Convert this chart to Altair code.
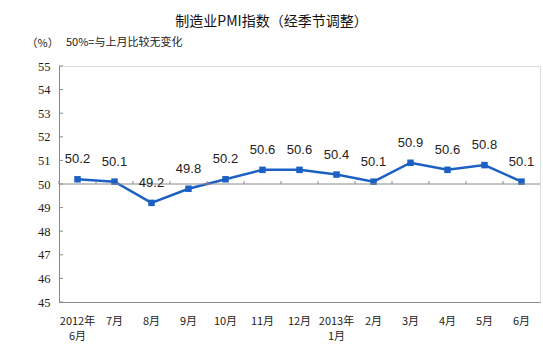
import altair as alt
import pandas as pd

# ---- data ----
months = ["2012年 6月", "7月", "8月", "9月", "10月", "11月", "12月",
          "2013年 1月", "2月", "3月", "4月", "5月", "6月"]
pmi = [50.2, 50.1, 49.2, 49.8, 50.2, 50.6, 50.6, 50.4, 50.1, 50.9, 50.6, 50.8, 50.1]
y_ticks = [45, 46, 47, 48, 49, 50, 51, 52, 53, 54, 55]
reference_level = 50
title_text = "制造业PMI指数（经季节调整）"
unit_text = "（%）"
note_text = "50%=与上月比较无变化"

df = pd.DataFrame({"month": months, "pmi": pmi})
df["ref"] = reference_level
ticks_df = pd.DataFrame({"v": y_ticks})
ref_df = pd.DataFrame({"v": [reference_level]})
note_df = pd.DataFrame({"t": [note_text]})

BLUE = "#1b60c4"
GRAY = "#8a8a8a"
CJK = "Noto Sans CJK SC"

yscale = alt.Scale(domain=[45, 55], nice=False, zero=False)
xscale = alt.Scale(type="band", paddingInner=0, paddingOuter=0)

x_axis = alt.Axis(labelAngle=0, labelExpr="split(datum.label, ' ')",
                  labelLineHeight=15, labelPadding=13, ticks=False,
                  domain=True, domainColor=GRAY, labelOverlap=False,
                  labelFont=CJK, labelFontSize=11, labelColor="#222222")
y_axis = alt.Axis(values=y_ticks, tickCount=11, grid=False, ticks=False, domain=True,
                  domainColor=GRAY, labelPadding=9, labelOverlap=False,
                  labelFont="Liberation Serif", labelFontSize=12.5,
                  labelColor="#222222",
                  titleAngle=0, titleX=-33, titleY=-23,
                  titleAlign="left", titleBaseline="middle",
                  titleFont=CJK, titleFontSize=11, titleFontWeight="normal",
                  titleColor="#222222")

line = alt.Chart(df).mark_line(
    color=BLUE, strokeWidth=2.5,
    point=alt.OverlayMarkDef(shape="square", size=42, filled=True, color=BLUE, opacity=1)
).encode(
    x=alt.X("month:N", sort=months, scale=xscale, bandPosition=0.5, title=None, axis=x_axis),
    y=alt.Y("pmi:Q", scale=yscale, title=unit_text, axis=y_axis))

ref_rule = alt.Chart(ref_df).mark_rule(color=GRAY, strokeWidth=1).encode(
    y=alt.Y("v:Q", scale=yscale, title=unit_text, axis=y_axis))

boundary_ticks = alt.Chart(df).mark_rule(color=GRAY, strokeWidth=1, yOffset=-3).encode(
    x=alt.X("month:N", sort=months, scale=xscale, bandPosition=0, title=None, axis=x_axis),
    y=alt.Y("ref:Q", scale=yscale, title=unit_text, axis=y_axis),
    y2="ref:Q")

y_inner_ticks = alt.Chart(ticks_df).mark_rule(color=GRAY, strokeWidth=1).encode(
    y=alt.Y("v:Q", scale=yscale, title=unit_text, axis=y_axis),
    x=alt.value(0), x2=alt.value(4))

labels = alt.Chart(df).mark_text(
    dy=-20, fontSize=13, font="Liberation Sans", color="#222222",
    baseline="middle", align="center"
).encode(
    x=alt.X("month:N", sort=months, scale=xscale, bandPosition=0.5, title=None, axis=x_axis),
    y=alt.Y("pmi:Q", scale=yscale, title=unit_text, axis=y_axis),
    text=alt.Text("pmi:Q", format=".1f"))

note = alt.Chart(note_df).mark_text(
    align="left", baseline="middle", fontSize=11, font=CJK, color="#222222"
).encode(x=alt.value(7), y=alt.value(-23), text="t:N")

chart = alt.layer(
    line, ref_rule, boundary_ticks, y_inner_ticks, labels, note
).properties(
    width=481, height=236,
    title=alt.TitleParams(title_text, font=CJK, fontSize=14, fontWeight="normal",
                          color="#111111", anchor="middle", dx=-28, offset=8),
    autosize=alt.AutoSizeParams(type="none"),
    padding={"left": 59, "top": 66, "right": 3, "bottom": 53},
).configure_view(stroke=GRAY, strokeWidth=1).configure(background="white")

chart.save("out.html", embed_options={"renderer": "svg", "actions": False})
